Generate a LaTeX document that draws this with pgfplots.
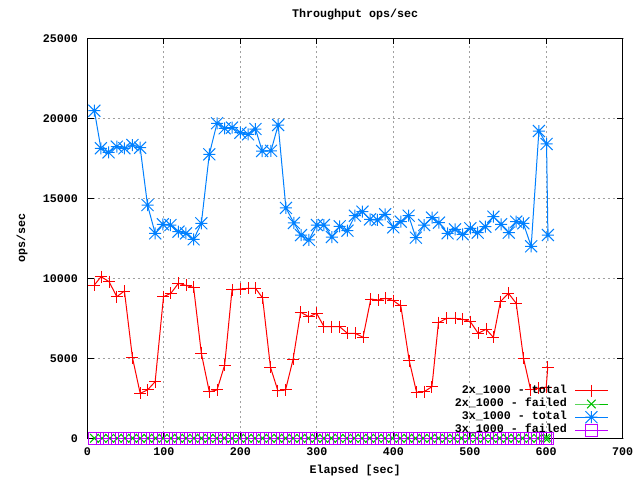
\documentclass[border=0pt]{standalone}
\usepackage{fontspec}
\setmainfont{Liberation Mono}
\usepackage{pgfplots}
\usepackage{pgfplotstable}
\usetikzlibrary{plotmarks}
\pgfplotsset{compat=1.18}
\definecolor{gpred}{RGB}{255,0,0}
\definecolor{gpgreen}{RGB}{0,192,0}
\definecolor{gpblue}{RGB}{0,128,255}
\definecolor{gpmag}{RGB}{192,0,255}
\definecolor{gpgrid}{RGB}{160,160,160}
\pgfdeclareplotmark{gpstar}{%
 \pgfpathmoveto{\pgfqpoint{-\pgfplotmarksize}{0pt}}\pgfpathlineto{\pgfqpoint{\pgfplotmarksize}{0pt}}%
 \pgfpathmoveto{\pgfqpoint{0pt}{-\pgfplotmarksize}}\pgfpathlineto{\pgfqpoint{0pt}{\pgfplotmarksize}}%
 \pgfpathmoveto{\pgfqpoint{-\pgfplotmarksize}{-\pgfplotmarksize}}\pgfpathlineto{\pgfqpoint{\pgfplotmarksize}{\pgfplotmarksize}}%
 \pgfpathmoveto{\pgfqpoint{-\pgfplotmarksize}{\pgfplotmarksize}}\pgfpathlineto{\pgfqpoint{\pgfplotmarksize}{-\pgfplotmarksize}}%
 \pgfusepathqstroke}

\pgfplotstableread{
x y
9 9581
17.7 10100
28.2 9790
38.3 8850
48.3 9206
58.8 5040
68.9 2810
78.5 3020
88.5 3540
99.4 8850
109 9060
119 9690
129 9550
138.8 9430
148.9 5310
159.3 2910
169.4 3020
179.4 4580
189 9270
200 9330
210 9375
219.7 9375
229 8770
239.3 4440
249 2975
259 3020
269 4956
278.7 7875
289.6 7600
299.7 7810
309.3 6975
319.4 6975
329.8 6975
340 6560
350 6560
360.4 6310
370.5 8706
380 8640
390 8750
400 8600
409.8 8270
420.8 4850
430.4 2875
440.4 2915
450.5 3225
459 7225
470 7500
480.7 7500
490.7 7440
500.7 7290
511 6560
521.3 6810
530.9 6310
540 8540
550.6 9060
560.7 8440
570.3 5000
579.5 3040
590.5 3125
600 3200
602 4450
}\twototal

\pgfplotstableread{
x y
9 20475
17.5 18125
27.5 17875
38.3 18225
48.3 18125
58.8 18330
68.9 18160
78.5 14580
88.5 12810
98.6 13375
108.5 13330
119 12915
128.8 12810
138.8 12435
148.9 13435
159.3 17750
169.4 19690
179.4 19375
189 19415
200 19100
210 19000
219.7 19330
228.5 17956
240 17970
249.4 19580
259.5 14400
270 13460
279.3 12700
289.6 12400
300 13330
309.2 13330
319.7 12580
329.9 13250
340 12975
349.8 13910
359.6 14165
369.6 13685
379.2 13645
389.3 14000
400 13185
409.8 13540
420 13915
429.5 12540
440.4 13330
450.7 13790
459.7 13475
471 12810
480.7 13060
490.7 12750
500.7 13125
510.4 12850
520.4 13225
530.9 13850
541 13375
551 12850
560.7 13540
570 13440
580.3 12000
590.4 19206
600.4 18394
602.2 12706
}\threetotal

\pgfplotstableread{
x y
9 0
19 0
29 0
39 0
49 0
59 0
69 0
79 0
89 0
99 0
109 0
119 0
129 0
139 0
149 0
159 0
169 0
179 0
189 0
199 0
209 0
219 0
229 0
239 0
249 0
259 0
269 0
279 0
289 0
299 0
309 0
319 0
329 0
339 0
349 0
359 0
369 0
379 0
389 0
399 0
409 0
419 0
429 0
439 0
449 0
459 0
469 0
479 0
489 0
499 0
509 0
519 0
529 0
539 0
549 0
559 0
569 0
579 0
589 0
599 0
602 0
}\failed

\begin{document}
\begin{tikzpicture}[font=\fontsize{11.67bp}{13.2bp}\selectfont\bfseries]
\useasboundingbox (0,0) rectangle (640bp,480bp);
\begin{axis}[
 at={(87.5bp,41.7bp)}, anchor=south west,
 scale only axis, width=535.2bp, height=400bp,
 xmin=0, xmax=700, ymin=0, ymax=25000,
 clip=false,
 scaled x ticks=false, scaled y ticks=false,
 xtick={0,100,200,300,400,500,600,700},
 ytick={0,5000,10000,15000,20000,25000},
 xticklabels={0,100,200,300,400,500,600,700},
 yticklabels={0,5000,10000,15000,20000,25000},
 /pgf/number format/assume math mode=true,
 tick align=inside, major tick length=6bp,
 tick style={black, line width=1bp},
 axis line style={black, line width=1bp},
 grid=major,
 major grid style={gpgrid, line width=1bp, dash pattern=on 2bp off 3bp},
 tick label style={font=\fontsize{11.67bp}{13.2bp}\selectfont\bfseries, inner sep=0pt},
 xticklabel style={anchor=base, yshift=-17.7bp},
 yticklabel style={anchor=east, xshift=-9.5bp},
 title={Throughput ops/sec},
 title style={at={(axis description cs:0.5,1)}, anchor=base, yshift=14.8bp, inner sep=0pt},
 xlabel={Elapsed [sec]},
 xlabel style={at={(axis description cs:0.5,0)}, anchor=base, yshift=-35bp, inner sep=0pt},
 ylabel={ops/sec},
 ylabel style={at={(axis description cs:0,0.5)}, anchor=center, yshift=65.5bp, inner sep=0pt},
 legend plot pos=right,
 legend cell align=right,
 legend style={draw=none, fill=none, at={(axis description cs:1,0)}, anchor=south east,
   xshift=-14.4bp, yshift=1.1bp, inner sep=0pt, row sep=0pt, column sep=7.9bp,
   font=\fontsize{11.67bp}{13.2bp}\selectfont\bfseries,
   nodes={inner sep=0pt, text height=9bp, text depth=4.2bp}},
 legend image code/.code={\draw[mark repeat=2,mark phase=2] plot coordinates {(0bp,0bp)(16.15bp,0bp)(32.3bp,0bp)};},
 every axis plot/.append style={line width=1bp, mark size=6bp},
]
\addplot[color=gpred, mark=+, mark options={solid}] table[x=x,y=y] {\twototal};
\addlegendentry{2x\_1000 - total}
\addplot[color=gpgreen, mark=x, mark options={solid}] table[x=x,y=y] {\failed};
\addlegendentry{2x\_1000 - failed}
\addplot[color=gpblue, mark=gpstar, mark options={solid}] table[x=x,y=y] {\threetotal};
\addlegendentry{3x\_1000 - total}
\addplot[color=gpmag, mark=square, mark options={solid, fill=none}] table[x=x,y=y] {\failed};
\addlegendentry{3x\_1000 - failed}
\end{axis}
\end{tikzpicture}
\end{document}
